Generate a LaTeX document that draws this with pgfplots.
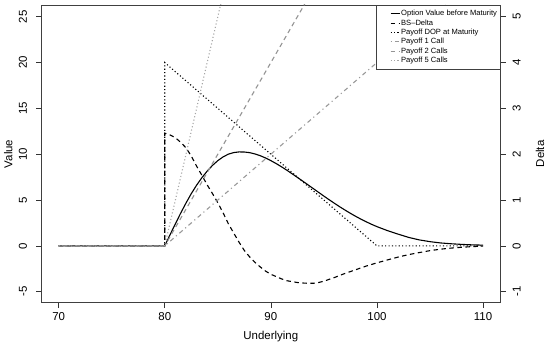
\documentclass[border=0pt]{standalone}
\usepackage{pgfplots}
\pgfplotsset{compat=1.18}
\usepackage{pgfplotstable}
\usepackage{fontspec}
\setmainfont{Liberation Sans}

\pgfplotstableread{
S V
70 0
80 0
80.5 1.22
81 2.41
81.5 3.57
82 4.67
82.5 5.70
83 6.62
83.5 7.44
84 8.16
84.5 8.78
85 9.30
85.5 9.71
86 10.01
86.5 10.18
87 10.25
87.5 10.24
88 10.17
88.5 10.03
89 9.84
89.5 9.59
90 9.30
90.5 8.98
91 8.63
91.5 8.26
92 7.87
92.5 7.47
93 7.07
93.5 6.66
94 6.25
94.5 5.84
95 5.43
95.5 5.03
96 4.64
96.5 4.26
97 3.90
97.5 3.55
98 3.22
98.5 2.91
99 2.62
99.5 2.35
100 2.10
101 1.66
102 1.28
103 0.92
104 0.65
105 0.46
106 0.32
107 0.23
108 0.16
109 0.11
110 0.08
}\valuetab

\pgfplotstableread{
S D
70 0
80 0
80 2.46
80.5 2.42
81 2.36
81.5 2.26
82 2.14
82.5 1.96
83 1.74
83.5 1.54
84 1.33
84.5 1.14
85 0.94
85.5 0.72
86 0.48
86.5 0.28
87 0.08
87.5 -0.10
88 -0.24
88.5 -0.36
89 -0.46
89.5 -0.55
90 -0.62
90.5 -0.67
91 -0.72
91.5 -0.76
92 -0.78
92.5 -0.80
93 -0.81
93.5 -0.816
94 -0.816
94.5 -0.80
95 -0.77
95.5 -0.73
96 -0.69
97 -0.60
98 -0.52
99 -0.44
100 -0.37
101 -0.306
102 -0.244
103 -0.19
104 -0.146
105 -0.104
106 -0.072
107 -0.048
108 -0.03
109 -0.016
110 -0.006
}\deltatab

\pgfplotstableread{
S P
70 0
80 0
80 20
100 0
110 0
}\doptab

\pgfplotstableread{
S C
70 0
80 0
110 30
}\onecall

\pgfplotstableread{
S C
70 0
80 0
110 60
}\twocalls

\pgfplotstableread{
S C
70 0
80 0
110 150
}\fivecalls

\begin{document}
\begin{tikzpicture}[x=1bp,y=1bp]
\path[use as bounding box] (0,0) rectangle (550,345);
\pgfplotsset{
  base/.style={
    scale only axis, width=458.3bp, height=297.7bp,
    at={(41.7bp,42.3bp)}, anchor=south west,
    xmin=68.4, xmax=111.6,
    tick align=outside, major tick length=5.5bp,
    tick style={black!80, line width=0.6bp},
    axis line style={black!75, line width=0.8bp},
    /pgf/number format/assume math mode=true,
    ticklabel style={font=\fontsize{11.5}{13}\selectfont, inner sep=0pt},
    label style={font=\fontsize{11.5}{13}\selectfont},
  }
}
% right axis: Delta
\begin{axis}[base,
  ymin=-1.24, ymax=5.256,
  axis x line=none, axis y line*=right,
  ytick={-1,0,1,2,3,4,5},
  yticklabel style={xshift=-3bp, rotate=90, anchor=north},
  yticklabel shift=10bp,
  ylabel={Delta},
  ylabel style={at={(axis description cs:1.0873,0.5)}, anchor=center, rotate=0},
]
\addplot[black, line width=1.1bp, dash pattern=on 4.5bp off 3.5bp] table[x=S,y=D] {\deltatab};
\end{axis}
% left axis: Value
\begin{axis}[base,
  ymin=-6.2, ymax=26.28,
  xtick={70,80,90,100,110},
  ytick={-5,0,5,10,15,20,25},
  xtick pos=left, ytick pos=left,
  xticklabel shift=4bp,
  xticklabel style={anchor=north},
  yticklabel style={xshift=-4bp, rotate=90, anchor=south},
  yticklabel shift=5bp,
  xlabel={Underlying},
  xlabel style={at={(axis description cs:0.5,-0.1152)}, anchor=center},
  ylabel={Value},
  ylabel style={at={(axis description cs:-0.0729,0.5)}, anchor=center},
  legend image code/.code={\path (-12bp,0bp); \draw[#1] (0bp,0bp) -- (9bp,0bp);},
  legend style={at={(rel axis cs:1,1)}, anchor=north east, outer sep=0pt,
    draw=black!75, line width=0.6bp, fill=white,
    font=\fontsize{7.6}{9.2}\selectfont,
    inner xsep=2bp, inner ysep=4bp, row sep=0bp,
    nodes={font=\fontsize{7.6}{9.2}\selectfont, inner sep=1bp, text height=5.8bp, text depth=1.6bp},
    cells={anchor=west}},
]
\addplot[black, line width=1.1bp] table[x=S,y=V] {\valuetab};
\addlegendentry{Option Value before Maturity}
\addlegendimage{black, line width=1.1bp, dash pattern=on 4.5bp off 3.5bp}
\addlegendentry{BS\textendash Delta}
\addplot[black, line width=1.1bp, dash pattern=on 1.1bp off 2.3bp] table[x=S,y=P] {\doptab};
\addlegendentry{Payoff DOP at Maturity}
\addplot[black!40, line width=1.1bp, dash pattern=on 1.1bp off 3.3bp on 4.4bp off 3.3bp] table[x=S,y=C] {\onecall};
\addlegendentry{Payoff 1 Call}
\addplot[black!42, line width=1.1bp, dash pattern=on 4.5bp off 3.5bp] table[x=S,y=C] {\twocalls};
\addlegendentry{Payoff 2 Calls}
\addplot[black!35, line width=1.1bp, dash pattern=on 1.1bp off 2.3bp] table[x=S,y=C] {\fivecalls};
\addlegendentry{Payoff 5 Calls}
\end{axis}
\end{tikzpicture}
\end{document}
